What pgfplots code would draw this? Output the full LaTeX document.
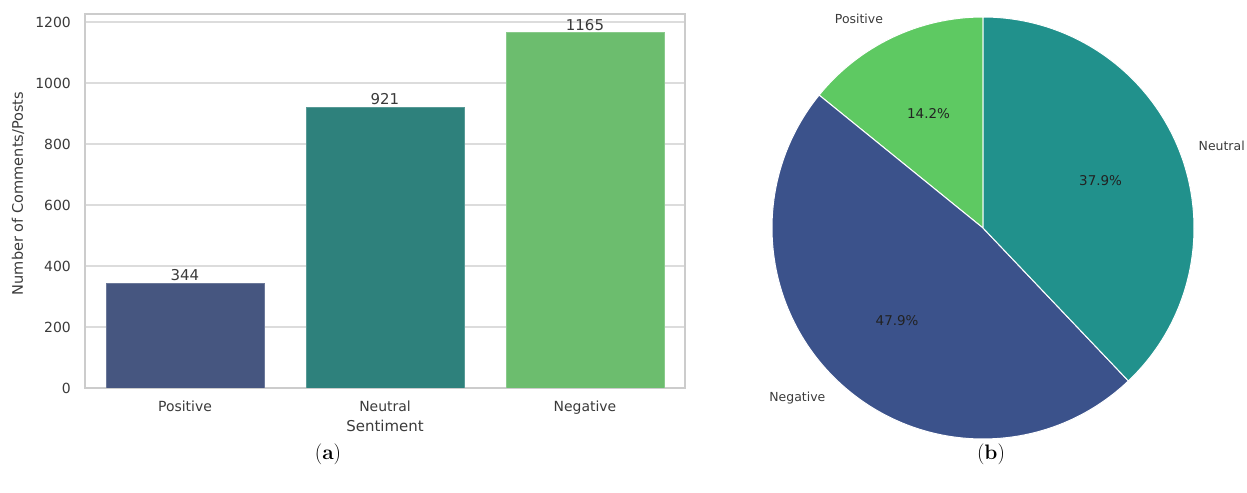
\documentclass[border=0pt]{standalone}
\usepackage{pgfplots}
\pgfplotsset{compat=1.18}
\usepackage{fontspec}
\newfontfamily\dejavu{DejaVu Sans}

\definecolor{barpos}{HTML}{465680}
\definecolor{barneu}{HTML}{2E817C}
\definecolor{barneg}{HTML}{6CBD6E}
\definecolor{piepos}{HTML}{5EC962}
\definecolor{pieneu}{HTML}{21918C}
\definecolor{pieneg}{HTML}{3B528B}
\definecolor{gridc}{HTML}{DCDCDC}
\definecolor{framec}{HTML}{CCCCCC}
\definecolor{txt}{HTML}{3A3A3A}
\definecolor{pct}{HTML}{222222}

% counts per sentiment
\def\vpos{344}
\def\vneu{921}
\def\vneg{1165}

\begin{document}
\begin{tikzpicture}
\useasboundingbox (0,0) rectangle (1247bp,493bp);

% (a) bar chart
\begin{axis}[
    at={(85bp,105bp)}, anchor=south west,
    width=600bp, height=374bp, scale only axis,
    xmin=-0.5, xmax=2.5, ymin=0, ymax=1226,
    xtick={0,1,2}, xticklabels={Positive,Neutral,Negative},
    ytick={0,200,400,600,800,1000,1200},
    major tick length=0pt,
    ymajorgrids=true,
    grid style={gridc, line width=1.2bp},
    axis line style={framec, line width=1.5bp},
    tick label style={font=\dejavu\fontsize{14}{16}\selectfont, text=txt},
    xticklabel style={anchor=north, inner sep=0pt, yshift=-13bp},
    yticklabel style={anchor=east, inner sep=0pt, xshift=-14bp},
    /pgf/number format/assume math mode=true,
    /pgf/number format/1000 sep={},
    every axis x label/.style={at={(axis description cs:0.5,0)}, anchor=north, inner sep=0pt, yshift=-32bp},
    every axis y label/.style={at={(axis description cs:-0.1117,0.52)}, rotate=90, anchor=center},
    xlabel style={font=\dejavu\fontsize{15}{18}\selectfont, text=txt},
    ylabel style={font=\dejavu\fontsize{14.6}{17}\selectfont, text=txt},
    xlabel={Sentiment},
    ylabel={Number of Comments/Posts},
    ybar, bar width=0.79,
    nodes near coords,
    every node near coord/.append style={font=\dejavu\fontsize{15}{18}\selectfont, text=txt, inner sep=1.5bp, anchor=south},
]
\addplot[/pgf/bar shift=0pt, fill=barpos, draw=barpos!80!white, line width=0.8bp] coordinates {(0,\vpos)};
\addplot[/pgf/bar shift=0pt, fill=barneu, draw=barneu!80!white, line width=0.8bp] coordinates {(1,\vneu)};
\addplot[/pgf/bar shift=0pt, fill=barneg, draw=barneg!80!white, line width=0.8bp] coordinates {(2,\vneg)};
\end{axis}

% (b) pie chart, counter-clockwise from 90 degrees: Positive, Negative, Neutral
\pgfmathsetmacro{\tot}{\vpos+\vneu+\vneg}
\pgfmathsetmacro{\ea}{90+360*(\vpos/\tot)}
\pgfmathsetmacro{\eb}{\ea+360*(\vneg/\tot)}
\pgfmathsetmacro{\ma}{(90+\ea)/2}
\pgfmathsetmacro{\mb}{(\ea+\eb)/2}
\pgfmathsetmacro{\mc}{(\eb+450)/2}
\begin{axis}[
    at={(983bp,265bp)}, anchor=center,
    width=422bp, height=422bp, scale only axis,
    hide axis, clip=false,
    xmin=-1, xmax=1, ymin=-1, ymax=1,
]
\fill[piepos, draw=white, line width=1bp] (axis cs:0,0) -- ++(90:211bp) arc[start angle=90, end angle=\ea, radius=211bp] -- cycle;
\fill[pieneg, draw=white, line width=1bp] (axis cs:0,0) -- ++(\ea:211bp) arc[start angle=\ea, end angle=\eb, radius=211bp] -- cycle;
\fill[pieneu, draw=white, line width=1bp] (axis cs:0,0) -- ++(\eb:211bp) arc[start angle=\eb, end angle=450, radius=211bp] -- cycle;

\node[anchor=east, inner sep=0pt, font=\dejavu\fontsize{12.5}{14}\selectfont, text=txt] at (axis cs:{1.1*cos(\ma)},{1.1*sin(\ma)}) {Positive};
\node[anchor=east, inner sep=0pt, font=\dejavu\fontsize{12.5}{14}\selectfont, text=txt] at (axis cs:{1.1*cos(\mb)},{1.1*sin(\mb)}) {Negative};
\node[anchor=west, inner sep=0pt, font=\dejavu\fontsize{12.5}{14}\selectfont, text=txt] at (axis cs:{1.1*cos(\mc)},{1.1*sin(\mc)-0.02}) {Neutral};

\node[inner sep=0pt, font=\dejavu\fontsize{13.5}{15}\selectfont, text=pct] at (axis cs:{0.6*cos(\ma)},{0.6*sin(\ma)}) {14.2\%};
\node[inner sep=0pt, font=\dejavu\fontsize{13.5}{15}\selectfont, text=pct] at (axis cs:{0.6*cos(\mb)},{0.6*sin(\mb)}) {47.9\%};
\node[inner sep=0pt, font=\dejavu\fontsize{13.5}{15}\selectfont, text=pct] at (axis cs:{0.6*cos(\mc)},{0.6*sin(\mc)}) {37.9\%};
\end{axis}

% panel captions
\node[font=\fontsize{21}{24}\selectfont] at (328bp,39bp) {(\textbf{a})};
\node[font=\fontsize{21}{24}\selectfont] at (991bp,39bp) {(\textbf{b})};
\end{tikzpicture}
\end{document}
